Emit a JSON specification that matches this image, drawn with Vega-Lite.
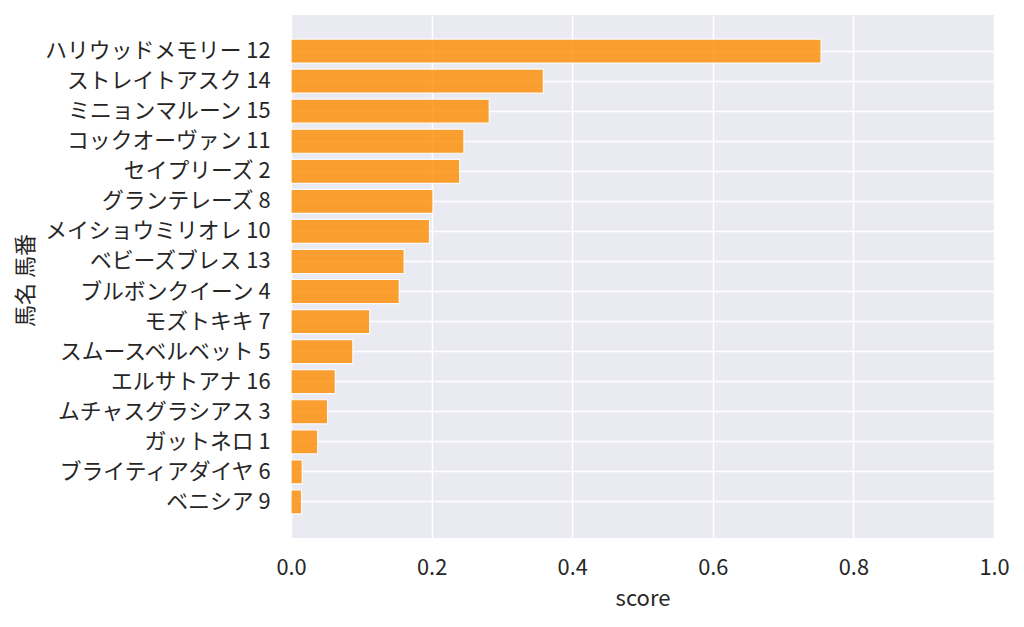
{
  "$schema": "https://vega.github.io/schema/vega-lite/v6.json",
  "autosize": {"type": "none"},
  "padding": {"left": 291, "top": 15, "right": 30, "bottom": 89},
  "width": 703,
  "height": 523,
  "background": "white",
  "data": {
    "values": [
      {"horse": "ハリウッドメモリー 12", "score": 0.754},
      {"horse": "ストレイトアスク 14", "score": 0.359},
      {"horse": "ミニョンマルーン 15", "score": 0.282},
      {"horse": "コックオーヴァン 11", "score": 0.246},
      {"horse": "セイプリーズ 2", "score": 0.240},
      {"horse": "グランテレーズ 8", "score": 0.202},
      {"horse": "メイショウミリオレ 10", "score": 0.197},
      {"horse": "ベビーズブレス 13", "score": 0.161},
      {"horse": "ブルボンクイーン 4", "score": 0.154},
      {"horse": "モズトキキ 7", "score": 0.112},
      {"horse": "スムースベルベット 5", "score": 0.088},
      {"horse": "エルサトアナ 16", "score": 0.063},
      {"horse": "ムチャスグラシアス 3", "score": 0.052},
      {"horse": "ガットネロ 1", "score": 0.038},
      {"horse": "ブライティアダイヤ 6", "score": 0.016},
      {"horse": "ベニシア 9", "score": 0.015}
    ]
  },
  "mark": {
    "type": "bar",
    "color": "#ff8c00",
    "opacity": 0.8,
    "stroke": "white",
    "strokeWidth": 1.2
  },
  "encoding": {
    "y": {
      "field": "horse",
      "type": "nominal",
      "sort": null,
      "title": "馬名 馬番",
      "scale": {"paddingInner": 0.2, "paddingOuter": 0.8},
      "axis": {"bandPosition": 0.5, "labelLimit": 400, "titleX": -254, "titleY": 265, "titleAngle": -90, "titleAlign": "center", "titleBaseline": "bottom"}
    },
    "x": {
      "field": "score",
      "type": "quantitative",
      "title": "score",
      "scale": {"domain": [0, 1], "nice": false},
      "axis": {"values": [0, 0.2, 0.4, 0.6, 0.8, 1.0], "format": ".1f", "labelFlush": false, "labelPadding": 19, "titlePadding": 10}
    }
  },
  "config": {
    "font": "Noto Sans CJK JP",
    "view": {"fill": "#eaeaf2", "stroke": null},
    "axis": {
      "domain": false,
      "ticks": false,
      "tickSize": 0,
      "labelPadding": 21,
      "labelFont": "Noto Sans CJK JP",
      "labelFontSize": 21.8,
      "labelColor": "#262626",
      "titleFont": "Noto Sans CJK JP",
      "titleFontSize": 22,
      "titleFontWeight": "normal",
      "titleColor": "#262626",
      "grid": true,
      "gridColor": "white",
      "gridWidth": 1.5,
      "gridOpacity": 1
    }
  }
}
